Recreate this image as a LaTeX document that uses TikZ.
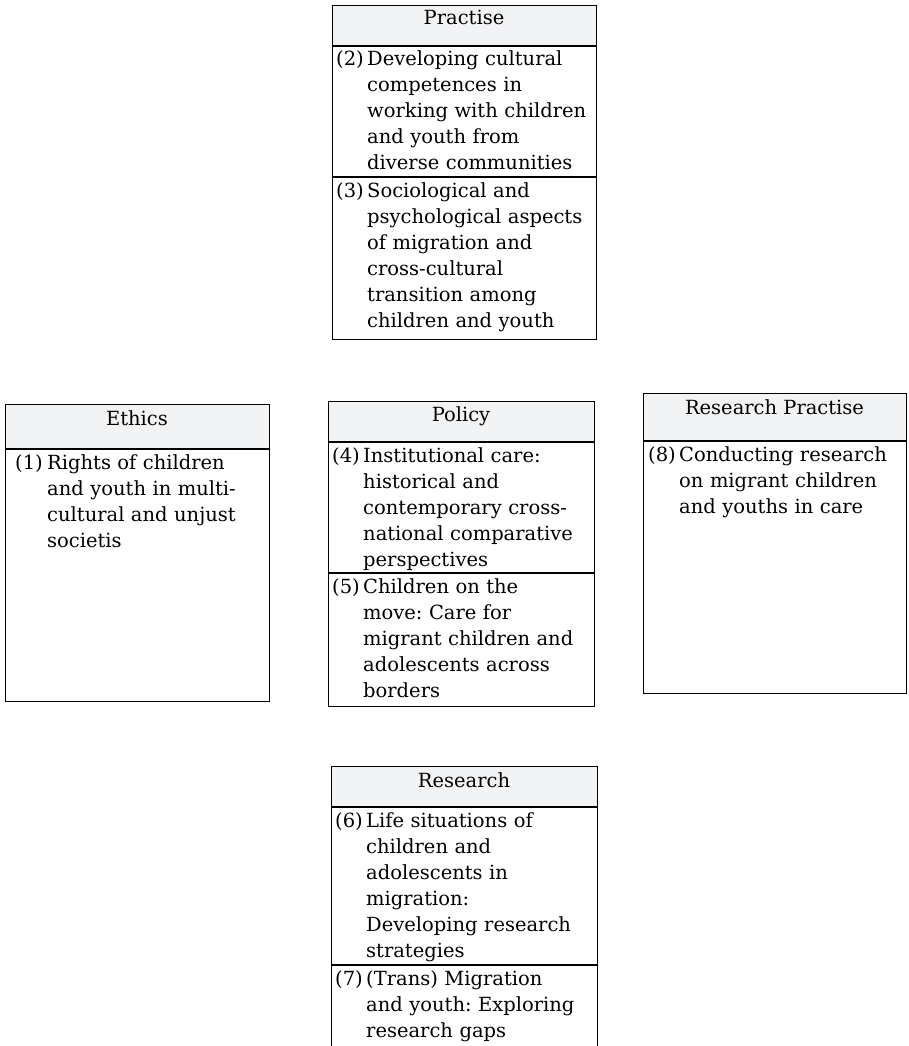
\documentclass[tikz,border=0pt]{standalone}
\usepackage{fontspec}
\setmainfont{DejaVu Serif}
\usepackage{tikz}
\usetikzlibrary{positioning}
\usepackage{xcolor}
\definecolor{headGray}{RGB}{242,243,245}
\frenchspacing

\begin{document}
\begin{tikzpicture}[
  x=1pt, y=-1pt,
  frame/.style={draw=black, line width=0.9pt},
  rule/.style={draw=black, line width=1.4pt},
  title/.style={anchor=base, inner sep=0pt,
                font=\fontsize{19.5}{26}\selectfont},
  num/.style={anchor=base west, inner sep=0pt,
              font=\fontsize{19.5}{26}\selectfont},
  entry/.style={anchor=base west, inner sep=0pt, text width=240pt,
                align=left, font=\fontsize{19.5}{26}\selectfont}
]
  \useasboundingbox (0,0) rectangle (908,1046);

  % closed boxes: left/right/top/header rule/bottom
  \foreach \l/\r/\t/\h/\b in {332/596/5/46/339, 5/269/404/449/701,
                              328/594/401/442/706, 643/906/393/441/693}
  {
    \fill[headGray] (\l,\t) rectangle (\r,\h);
    \draw[frame] (\l,\t) rectangle (\r,\b);
    \draw[rule] (\l,\h) -- (\r,\h);
  }
  % bottom box runs off the page
  \fill[headGray] (331,766) rectangle (597,807);
  \draw[frame] (331,1046) -- (331,766) -- (597,766) -- (597,1046);
  \draw[rule] (331,807) -- (597,807);

  % rules between entries
  \draw[rule] (332,177) -- (596,177);
  \draw[rule] (328,573) -- (594,573);
  \draw[rule] (331,965) -- (597,965);

  % headings
  \node[title] (hPrac)    at (464,25)    {Practise};
  \node[title] (hEth)     at (137,425)   {Ethics};
  \node[title] (hPol)     at (461,421)   {Policy};
  \node[title] (hResPrac) at (774.5,414) {Research Practise};
  \node[title] (hRes)     at (464,787)   {Research};

  % Practise
  \node[num]   (n2) at (336,66) {(2)};
  \node[entry] (t2) at (367,66)
    {Developing cultural\\competences in\\working with children\\
     and youth from\\diverse communities};
  \node[num]   (n3) at (336,197) {(3)};
  \node[entry] (t3) at (367,197)
    {Sociological and\\psychological aspects\\of migration and\\
     cross-cultural\\transition among\\children and youth};

  % Ethics
  \node[num]   (n1) at (15,469) {(1)};
  \node[entry] (t1) at (47,469)
    {Rights of children\\and youth in multi-\\cultural and unjust\\societis};

  % Policy
  \node[num]   (n4) at (332,462) {(4)};
  \node[entry] (t4) at (363,462)
    {Institutional care:\\historical and\\contemporary cross-\\
     national comparative\\perspectives};
  \node[num]   (n5) at (332,593) {(5)};
  \node[entry] (t5) at (363,593)
    {Children on the\\move: Care for\\migrant children and\\
     adolescents across\\borders};

  % Research Practise
  \node[num]   (n8) at (648,461) {(8)};
  \node[entry] (t8) at (679,461)
    {Conducting research\\on migrant children\\and youths in care};

  % Research
  \node[num]   (n6) at (335,827) {(6)};
  \node[entry] (t6) at (366,827)
    {Life situations of\\children and\\adolescents in\\migration:\\
     Developing research\\strategies};
  \node[num]   (n7) at (335,985) {(7)};
  \node[entry] (t7) at (366,985)
    {(Trans) Migration\\and youth: Exploring\\research gaps};
\end{tikzpicture}
\end{document}
